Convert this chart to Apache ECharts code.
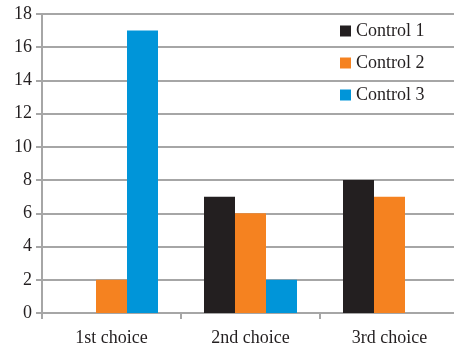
<!DOCTYPE html>
<html>
<head>
<meta charset="utf-8">
<script src="https://cdn.jsdelivr.net/npm/echarts@6/dist/echarts.min.js"></script>
<style>html,body{margin:0;padding:0;background:#fff}#c{width:454px;height:347px}</style>
</head>
<body>
<div id="c"></div>
<script>
var categories = ['1st choice', '2nd choice', '3rd choice'];
var control1 = [0, 7, 8];
var control2 = [2, 6, 7];
var control3 = [17, 2, 0];
var seriesNames = ['Control 1', 'Control 2', 'Control 3'];
var colors = ['#231f20', '#f58220', '#0095d9'];

var chart = echarts.init(document.getElementById('c'), null, {renderer: 'canvas'});
var font = '"Liberation Serif", "Times New Roman", "DejaVu Serif", serif';
function mk(name, data, color) {
  return {
    name: name, type: 'bar', data: data.map(function(v){ return v === 0 ? null : v; }),
    barWidth: 31, barGap: '0%',
    itemStyle: {color: color}
  };
}
chart.setOption({
  animation: false,
  color: colors,
  grid: {left: 42, right: -5, top: 14, bottom: 34, containLabel: false, outerBoundsMode: 'none'},
  legend: {
    orient: 'vertical', left: 340, top: 22, padding: 0,
    icon: 'rect', itemWidth: 11, itemHeight: 11, itemGap: 14,
    textStyle: {fontFamily: font, fontSize: 18, color: '#231f20'},
    data: seriesNames
  },
  xAxis: {
    type: 'category', data: categories,
    axisLine: {lineStyle: {color: '#a6a6a6', width: 2}},
    axisTick: {show: true, length: 6, lineStyle: {color: '#a6a6a6', width: 2}},
    axisLabel: {fontFamily: font, fontSize: 18, color: '#231f20', margin: 16}
  },
  yAxis: {
    type: 'value', min: 0, max: 18, interval: 2,
    axisLine: {show: true, lineStyle: {color: '#a6a6a6', width: 2}},
    axisTick: {show: true, length: 6, lineStyle: {color: '#a6a6a6', width: 2}},
    axisLabel: {fontFamily: font, fontSize: 18, color: '#231f20', margin: 10},
    splitLine: {show: true, lineStyle: {color: '#a6a6a6', width: 2}}
  },
  series: [
    mk(seriesNames[0], control1, colors[0]),
    mk(seriesNames[1], control2, colors[1]),
    mk(seriesNames[2], control3, colors[2])
  ]
});
</script>
</body>
</html>
